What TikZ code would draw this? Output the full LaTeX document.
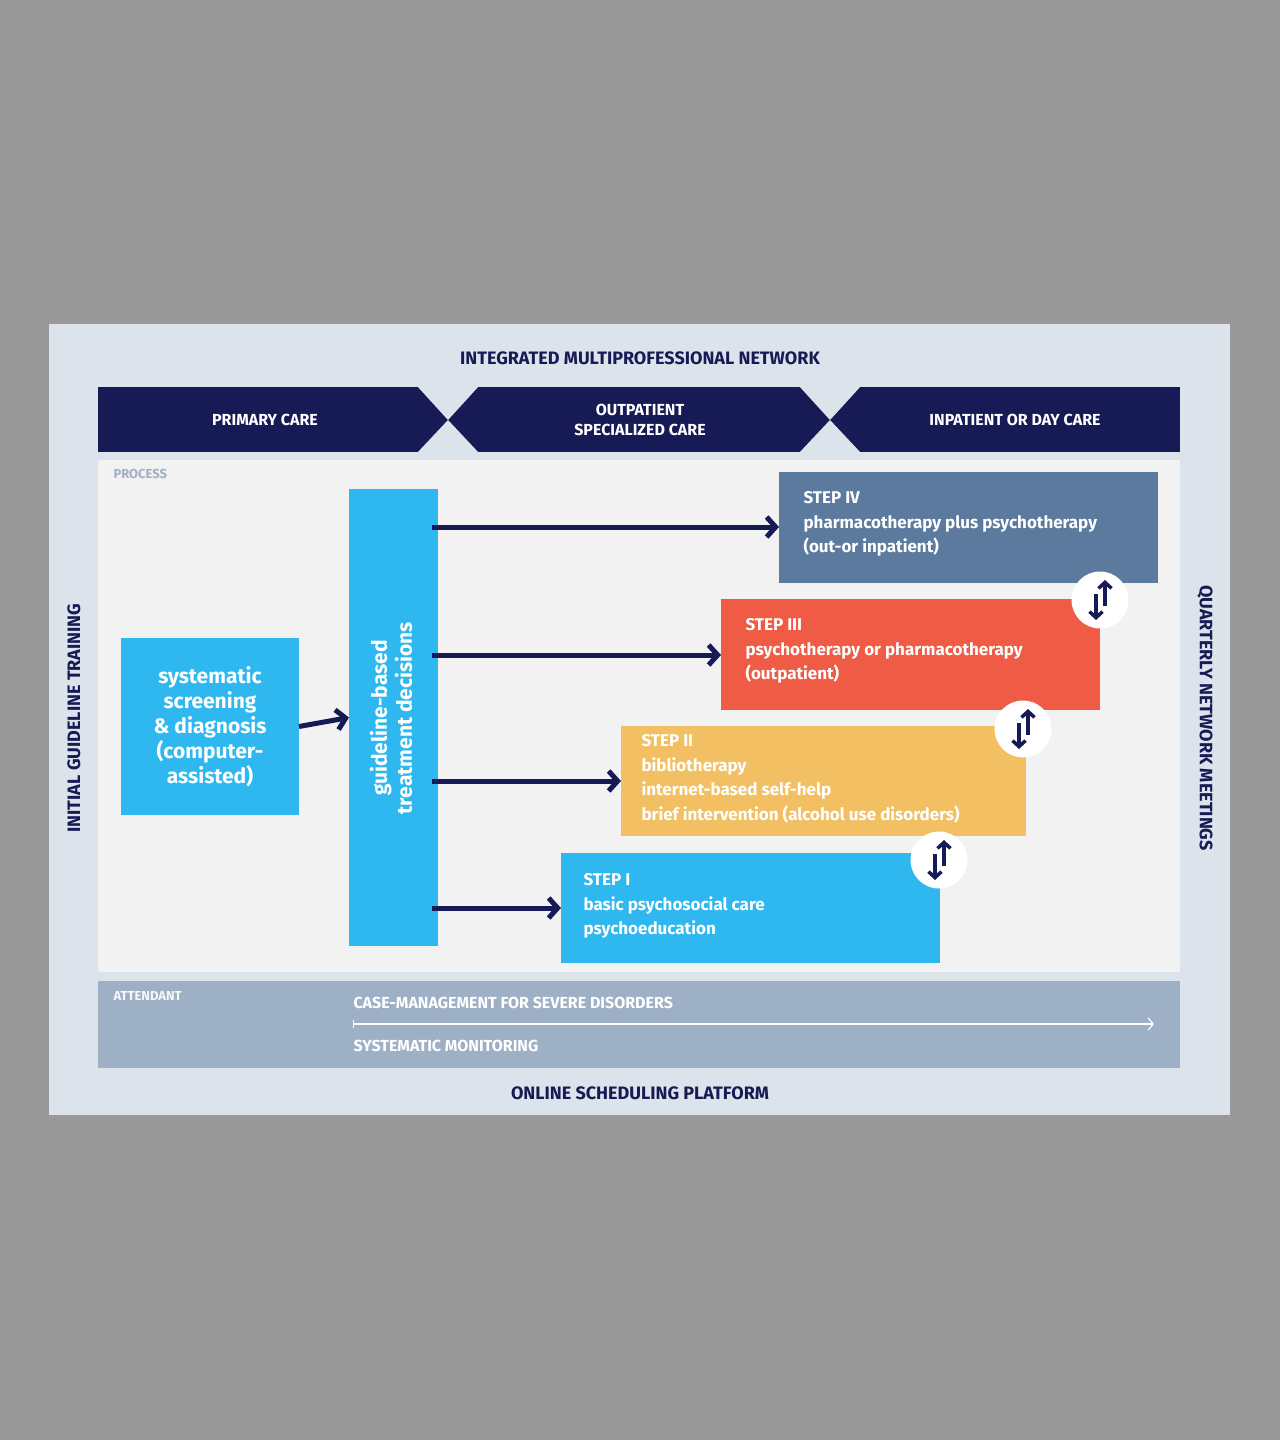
\documentclass[tikz,border=0pt]{standalone}
\usepackage{fontspec}
\setmainfont{Fira Sans}
\usetikzlibrary{arrows.meta}
\definecolor{bg}{HTML}{999999}
\definecolor{panel}{HTML}{DDE3EA}
\definecolor{proc}{HTML}{F2F2F2}
\definecolor{att}{HTML}{9EB0C6}
\definecolor{navy}{HTML}{161A55}
\definecolor{cyan}{HTML}{2EB8EF}
\definecolor{s4}{HTML}{5B7A9E}
\definecolor{s3}{HTML}{EF5B45}
\definecolor{s2}{HTML}{F2C063}
\definecolor{lbl}{HTML}{A3B0C2}
\tikzset{
 box/.style={inner sep=0pt, outer sep=0pt},
 steptxt/.style={text=white, font=\fontsize{17}{24.5}\selectfont\bfseries, align=left, anchor=north west},
 hdr/.style={text=white, font=\fontsize{16}{20}\selectfont\bfseries, align=center},
 title/.style={text=navy, font=\fontsize{18}{22}\selectfont\bfseries},
 flow/.style={navy, line width=5pt, -{Straight Barb[length=9pt,width=20pt,line width=5pt]}},
 swap/.style={navy, line width=3.5pt, -{Straight Barb[length=6pt,width=13pt,line width=3.5pt]}}
}
\begin{document}
\begin{tikzpicture}[x=1pt,y=-1pt]
\fill[bg] (0,0) rectangle (1280,1440);
\useasboundingbox (0,0) rectangle (1280,1440);
\fill[panel] (49,324) rectangle (1230,1115);
\fill[proc] (98,460) rectangle (1180,972);
\fill[att] (98,981) rectangle (1180,1068);
% header band
\fill[navy] (98,387) rectangle (1180,452);
\foreach \x in {448,830}{
 \fill[panel] (\x-31,386) -- (\x+31,386) -- (\x,420) -- cycle;
 \fill[panel] (\x-31,453) -- (\x+31,453) -- (\x,420) -- cycle;
}
\node[hdr] (h1) at (265,420) {PRIMARY CARE};
\node[hdr] (h2) at (640,420) {OUTPATIENT\\SPECIALIZED CARE};
\node[hdr] (h3) at (1015,420) {INPATIENT OR DAY CARE};
\node[title] (t1) at (640,358) {INTEGRATED MULTIPROFESSIONAL NETWORK};
\node[title] (t2) at (640,1093) {ONLINE SCHEDULING PLATFORM};
\node[title, rotate=90] (t3) at (74,718) {INITIAL GUIDELINE TRAINING};
\node[title, rotate=-90] (t4) at (1205,718) {QUARTERLY NETWORK MEETINGS};
\node[anchor=west, text=lbl, font=\fontsize{13}{15}\selectfont\bfseries] (pl) at (110,474) {PROCESS};
\node[anchor=west, text=white!90!att, font=\fontsize{13}{15}\selectfont\bfseries] (al) at (110,996) {ATTENDANT};
% boxes
\node[box, fill=cyan, minimum width=178pt, minimum height=177pt, text=white, align=center,
 font=\fontsize{21}{25}\selectfont\bfseries] (scr) at (210,726.5)
 {systematic\\screening\\\& diagnosis\\(computer-\\assisted)};
\node[box, fill=cyan, minimum width=89pt, minimum height=457pt] (gbd) at (393.5,717.5) {};
\node[text=white, rotate=90, align=center, font=\fontsize{21}{25}\selectfont\bfseries] (gbt) at (391,718) {guideline-based\\treatment decisions};
\node[box, fill=s4, minimum width=379pt, minimum height=111pt] (st4) at (968.5,527.5) {};
\node[box, fill=s3, minimum width=379pt, minimum height=111pt] (st3) at (910.5,654.5) {};
\node[box, fill=s2, minimum width=405pt, minimum height=110pt] (st2) at (823.5,781) {};
\node[box, fill=cyan, minimum width=379pt, minimum height=110pt] (st1) at (750.5,908) {};
\node[steptxt] (x4) at (800,488) {STEP IV\\pharmacotherapy plus psychotherapy\\(out-or inpatient)};
\node[steptxt] (x3) at (742,615) {STEP III\\psychotherapy or pharmacotherapy\\(outpatient)};
\node[steptxt] (x2) at (638,731) {STEP II\\bibliotherapy\\internet-based self-help\\brief intervention (alcohol use disorders)};
\node[steptxt] (x1) at (580,870) {STEP I\\basic psychosocial care\\psychoeducation};
% flows
\coordinate (a4) at (432,527); \coordinate (a3) at (432,655);
\coordinate (a2) at (432,781); \coordinate (a1) at (432,908);
\draw[flow] (a4) -- (st4.west|-a4);
\draw[flow] (a3) -- (st3.west|-a3);
\draw[flow] (a2) -- (st2.west|-a2);
\draw[flow] (a1) -- (st1.west|-a1);
\draw[flow] (scr.east) -- (gbd.west);
% swap icons
\foreach \n/\x/\y in {c1/1100/600,c2/1023/729,c3/939/860}{
 \node[circle, fill=white, minimum size=57pt, inner sep=0pt] (\n) at (\x,\y) {};
 \draw[swap] (\x-4,\y-6) -- (\x-4,\y+20);
 \draw[swap] (\x+5,\y+6) -- (\x+5,\y-20);
}
% attendant
\node[anchor=west, text=white, font=\fontsize{16}{20}\selectfont\bfseries] (cm) at (350,1003) {CASE-MANAGEMENT FOR SEVERE DISORDERS};
\node[anchor=west, text=white, font=\fontsize{16}{20}\selectfont\bfseries] (sm) at (350,1046) {SYSTEMATIC MONITORING};
\coordinate (m0) at (353,1024); \coordinate (m1) at (1154,1024);
\draw[white, line width=1.2pt, {Bar[width=8pt]}-{Straight Barb[length=5pt,width=12pt]}] (m0) -- (m1);
\end{tikzpicture}
\end{document}
